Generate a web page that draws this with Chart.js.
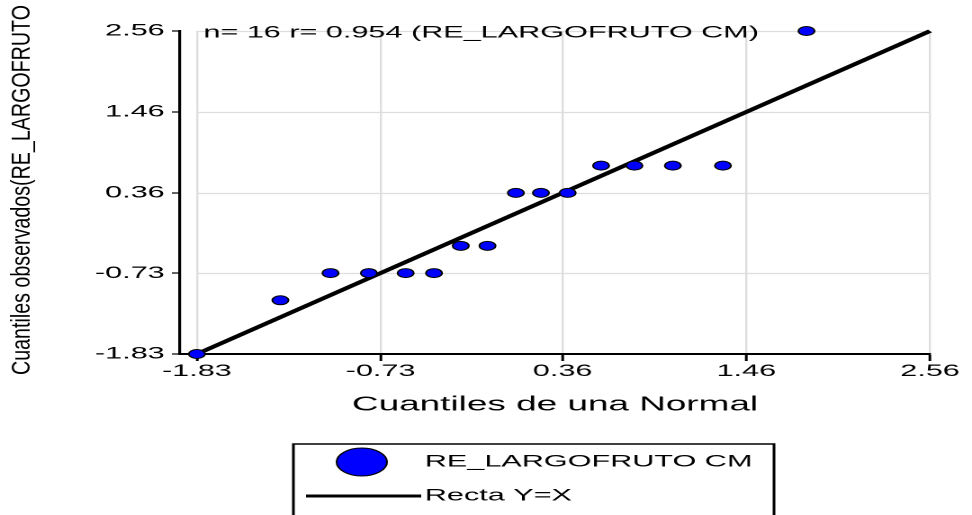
<!DOCTYPE html>
<html>
<head>
<meta charset="utf-8">
<script src="https://cdn.jsdelivr.net/npm/chart.js@4.4.1/dist/chart.umd.min.js"></script>
<style>
html, body { margin: 0; padding: 0; background: #fff; overflow: hidden; }
#qq { display: block; }
</style>
</head>
<body>
<!-- the original picture is stretched sideways, so the canvas is drawn narrow and widened by its inline style -->
<canvas id="qq" width="540" height="515" style="width:972px;height:515px"></canvas>
<script>
// cuantiles teoricos (eje x) y observados (eje y)
const qNormal = [-1.83, -1.33, -1.03, -0.80, -0.58, -0.41, -0.25, -0.09, 0.08, 0.23, 0.39, 0.59, 0.79, 1.02, 1.32, 1.82];
const qObs = [-1.83, -1.10, -0.73, -0.73, -0.73, -0.73, -0.36, -0.36, 0.36, 0.36, 0.36, 0.73, 0.73, 0.73, 0.73, 2.56];
const tickVals = [-1.83, -0.73, 0.36, 1.46, 2.56];
const lineEnds = [-1.83, 2.56];

const seriesName = 'RE_LARGOFRUTO CM';
const lineName = 'Recta Y=X';
const note = 'n= 16 r= 0.954 (RE_LARGOFRUTO CM)';
const xTitle = 'Cuantiles de una Normal';
const yTitle = 'Cuantiles observados(RE_LARGOFRUTO';

const FONT = '"Liberation Sans", Arial, sans-serif';
const GRID = '#dedede';

// horizontal grid only over the data span, like the original
const gridRows = {
  id: 'gridRows',
  beforeDraw(chart) {
    const { ctx, scales: { x, y } } = chart;
    const x0 = x.getPixelForValue(tickVals[0]);
    const x1 = x.getPixelForValue(tickVals[tickVals.length - 1]);
    ctx.save();
    ctx.strokeStyle = GRID;
    ctx.lineWidth = 1.2;
    tickVals.slice(1).forEach(v => {
      const py = Math.round(y.getPixelForValue(v)) + 0.5;
      ctx.beginPath();
      ctx.moveTo(x0, py);
      ctx.lineTo(x1, py);
      ctx.stroke();
    });
    ctx.restore();
  }
};

// texto n/r, titulo del eje y y la leyenda con recuadro
const extras = {
  id: 'extras',
  afterDraw(chart) {
    const ctx = chart.ctx;
    ctx.save();
    ctx.fillStyle = '#000';

    ctx.font = '17px ' + FONT;
    ctx.textAlign = 'left';
    ctx.textBaseline = 'middle';
    ctx.fillText(note, 113, 33);

    // titulo vertical, apretado a lo largo como en el original
    ctx.save();
    ctx.translate(12.5, 190);
    ctx.rotate(-Math.PI / 2);
    ctx.scale(1, 0.55);
    ctx.font = '26px ' + FONT;
    ctx.textAlign = 'center';
    ctx.fillText(yTitle, 0, 0, 370);
    ctx.restore();

    // leyenda
    ctx.strokeStyle = '#000';
    ctx.lineWidth = 1.5;
    ctx.beginPath();
    ctx.moveTo(163, 520);
    ctx.lineTo(163, 444);
    ctx.lineTo(430, 444);
    ctx.lineTo(430, 520);
    ctx.stroke();

    const rows = [462, 496];
    chart.data.datasets.forEach((ds, i) => {
      const cy = rows[i];
      if (ds.type === 'line') {
        ctx.strokeStyle = ds.borderColor;
        ctx.lineWidth = 3;
        ctx.beginPath();
        ctx.moveTo(170, cy);
        ctx.lineTo(234, cy);
        ctx.stroke();
      } else {
        ctx.fillStyle = ds.pointBackgroundColor;
        ctx.strokeStyle = ds.pointBorderColor;
        ctx.lineWidth = 1;
        ctx.beginPath();
        ctx.arc(201, cy, 14, 0, Math.PI * 2);
        ctx.fill();
        ctx.stroke();
      }
      ctx.fillStyle = '#000';
      ctx.font = '17px ' + FONT;
      ctx.textAlign = 'left';
      ctx.textBaseline = 'middle';
      ctx.fillText(ds.label, 236, cy);
    });
    ctx.restore();
  }
};

const ctx = document.getElementById('qq');

new Chart(ctx, {
  type: 'scatter',
  data: {
    datasets: [
      {
        label: seriesName,
        data: qNormal.map((x, i) => ({ x: x, y: qObs[i] })),
        pointRadius: 4.5,
        pointBackgroundColor: '#0000ff',
        pointBorderColor: '#000',
        pointBorderWidth: 1,
        showLine: false,
        clip: false
      },
      {
        label: lineName,
        type: 'line',
        data: lineEnds.map(v => ({ x: v, y: v })),
        borderColor: '#000',
        borderWidth: 3.6,
        pointRadius: 0,
        fill: false,
        clip: false
      }
    ]
  },
  options: {
    responsive: false,
    devicePixelRatio: 2,
    animation: false,
    layout: { padding: { top: 31, right: 23.3, left: 0, bottom: 0 } },
    plugins: { legend: { display: false }, tooltip: { enabled: false } },
    scales: {
      x: {
        type: 'linear',
        min: -1.931,
        max: 2.56,
        afterBuildTicks: s => { s.ticks = tickVals.map(v => ({ value: v })); },
        afterFit: s => { s.height = 161; },
        ticks: {
          callback: v => v.toFixed(2),
          font: { family: FONT, size: 17 },
          color: '#000',
          padding: 0,
          maxRotation: 0,
          autoSkip: false
        },
        grid: { color: GRID, lineWidth: 1.2, tickColor: '#000', tickLength: 7, tickWidth: 1.5 },
        border: { color: '#000', width: 2 },
        title: {
          display: true,
          text: xTitle,
          font: { family: FONT, size: 20.5 },
          color: '#000',
          padding: { top: 0, bottom: 98 }
        }
      },
      y: {
        type: 'linear',
        min: -1.83,
        max: 2.56,
        afterBuildTicks: s => { s.ticks = tickVals.map(v => ({ value: v })); },
        afterFit: s => { s.width = 100; },
        ticks: {
          callback: v => v.toFixed(2),
          font: { family: FONT, size: 17 },
          color: '#000',
          padding: 4
        },
        grid: { drawOnChartArea: false, tickColor: '#000', tickLength: 4.5, tickWidth: 1.2 },
        border: { color: '#000', width: 1.6 }
      }
    }
  },
  plugins: [gridRows, extras]
});
</script>
</body>
</html>
